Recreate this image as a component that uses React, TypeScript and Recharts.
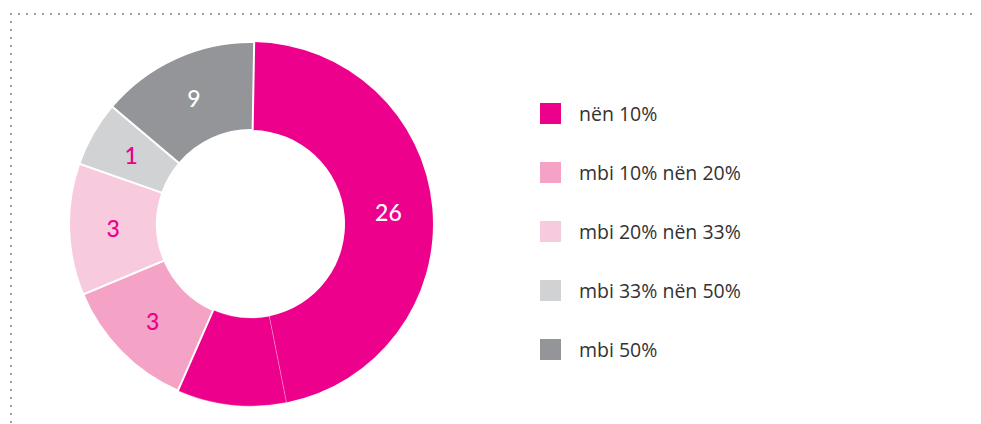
import React from "react";
import { PieChart, Pie, Cell, Legend } from "recharts";

// share of the ring (percent)
const shares = [46.6, 9.7, 12.1, 11.7, 5.8, 14.1];
// numbers printed on the slices
const counts = ["26", "", "3", "3", "1", "9"];
const sliceNames = ["nën 10%", "nën 10%", "mbi 10% nën 20%", "mbi 20% nën 33%", "mbi 33% nën 50%", "mbi 50%"];

const legendNames = ["nën 10%", "mbi 10% nën 20%", "mbi 20% nën 33%", "mbi 33% nën 50%", "mbi 50%"];

const MAGENTA = "#EC008C";
const sliceColors = [MAGENTA, MAGENTA, "#F4A3C6", "#F7CADE", "#D1D2D4", "#939598"];
const labelColors = ["#ffffff", "#ffffff", MAGENTA, MAGENTA, MAGENTA, "#ffffff"];
const legendColors = [MAGENTA, "#F4A3C6", "#F7CADE", "#D1D2D4", "#939598"];

const data = shares.map((v, i) => ({ name: sliceNames[i], value: v, count: counts[i] }));

const FONT = "Lato, 'Open Sans', sans-serif";
const RADIAN = Math.PI / 180;

function renderLabel(props: any) {
  const { cx, cy, midAngle, innerRadius, outerRadius, index } = props;
  const text = counts[index];
  if (!text) return null;
  const r = (innerRadius + outerRadius) / 2;
  const x = cx + r * Math.cos(-midAngle * RADIAN);
  const y = cy + r * Math.sin(-midAngle * RADIAN);
  return (
    <text
      x={x}
      y={y}
      fill={labelColors[index]}
      textAnchor="middle"
      dominantBaseline="central"
      fontFamily={FONT}
      fontSize={23}
      fontWeight={500}
    >
      {text}
    </text>
  );
}

function LegendBox() {
  return (
    <div style={{ fontFamily: "'Open Sans', sans-serif", fontSize: 19.5, color: "#333" }}>
      {legendNames.map((n, i) => (
        <div key={n} style={{ display: "flex", alignItems: "center", height: 21, marginBottom: 38 }}>
          <span style={{ width: 21, height: 21, background: legendColors[i], display: "inline-block", flexShrink: 0 }} />
          <span style={{ marginLeft: 18, lineHeight: "21px", whiteSpace: "nowrap" }}>{n}</span>
        </div>
      ))}
    </div>
  );
}

function DottedFrame() {
  return (
    <svg width={981} height={424} style={{ position: "absolute", left: 0, top: 0 }}>
      <line x1={10} y1={14} x2={977} y2={14} stroke="#9b9b9b" strokeWidth={2} strokeDasharray="2 6" />
      <line x1={11} y1={13} x2={11} y2={424} stroke="#9b9b9b" strokeWidth={2} strokeDasharray="2 6" />
    </svg>
  );
}

export default function App() {
  return (
    <div style={{ position: "absolute", left: 0, top: 0, width: 981, height: 424, background: "#fff" }}>
      <DottedFrame />
      <div style={{ position: "absolute", left: 0, top: 0 }}>
        <PieChart width={981} height={424} margin={{ top: 0, right: 0, bottom: 0, left: 0 }}>
          <Pie
            data={data}
            dataKey="value"
            nameKey="name"
            cx={251}
            cy={224}
            innerRadius={94}
            outerRadius={182}
            startAngle={89}
            endAngle={-271}
            stroke="#ffffff"
            strokeWidth={2}
            label={renderLabel}
            labelLine={false}
            isAnimationActive={false}
          >
            {data.map((d, i) => (
              <Cell
                key={i}
                fill={sliceColors[i]}
                stroke={i === 0 ? "none" : i === 1 ? "rgba(255,255,255,0.45)" : "#ffffff"}
                strokeWidth={i === 1 ? 0.7 : 2}
              />
            ))}
          </Pie>
          <Legend
            layout="vertical"
            content={() => <LegendBox />}
            wrapperStyle={{ left: 540, top: 103, width: 300 }}
          />
        </PieChart>
      </div>
    </div>
  );
}
